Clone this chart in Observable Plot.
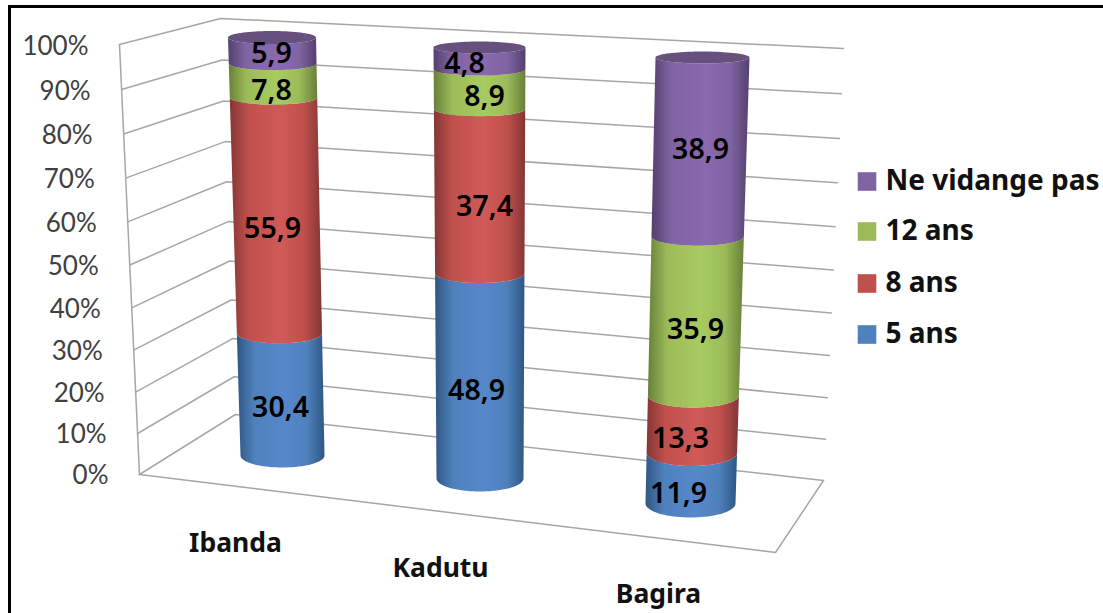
<!DOCTYPE html>
<html>
<head>
<meta charset="utf-8">
<script src="https://cdn.jsdelivr.net/npm/d3@7"></script>
<script src="https://cdn.jsdelivr.net/npm/@observablehq/plot@0.6"></script>
<style>html,body{margin:0;padding:0;background:#fff}svg{display:block}</style>
</head>
<body>
<div id="chart"></div>
<script>
// ---- data ----
const categories = ["Ibanda", "Kadutu", "Bagira"];
const seriesNames = ["5 ans", "8 ans", "12 ans", "Ne vidange pas"];
const ans5 = [30.4, 48.9, 11.9];
const ans8 = [55.9, 37.4, 13.3];
const ans12 = [7.8, 8.9, 35.9];
const neVidange = [5.9, 4.8, 38.9];
const seriesValues = [ans5, ans8, ans12, neVidange];
const yTicks = [0, 10, 20, 30, 40, 50, 60, 70, 80, 90, 100];

// ---- styles ----
const swatch = ["#4f81bd", "#c0504d", "#9bbb59", "#8064a2"];
const mid = ["#5687ca", "#d05a57", "#a8cb60", "#8a69ae"];
const edge = ["#2f5684", "#843634", "#688039", "#54406e"];
const capColor = "#66507e";
const gridColor = "#a6a6a6";
const font = "Lato";
const boldFont = "Noto Sans";

// ---- 3-D layout of the picture (perspective frame, cylinder placement) ----
const warp = v => (4.078 * v + 0.00222 * v * v) / 430;
const frontEdge = {x0: 139, y0: 474, x1: 119, y1: 44};
const backLeft = {x0: 235, y0: 414, x1: 220, y1: 18};
const backRight = {x0: 823, y0: 480, x1: 843, y1: 48};
const floorFront = {x: 775, y: 552};
const lerp = (a, b, t) => a + (b - a) * t;
const onEdge = (e, v) => ({x: lerp(e.x0, e.x1, warp(v)), y: lerp(e.y0, e.y1, warp(v))});

const cylinders = [
  {x0: 282, x1: 271.5, hw0: 42, hw1: 44, y0: 455, y1: 37, ry0: 12, ry1: 6.5},
  {x0: 479.5, x1: 479, hw0: 43.5, hw1: 46, y0: 478, y1: 47, ry0: 13, ry1: 6},
  {x0: 690, x1: 702, hw0: 45, hw1: 47, y0: 503, y1: 57, ry0: 14, ry1: 6}
];
const ring = (c, v) => {
  const t = warp(v);
  return {cx: lerp(c.x0, c.x1, t), cy: lerp(c.y0, c.y1, t), hw: lerp(c.hw0, c.hw1, t), ry: lerp(c.ry0, c.ry1, t)};
};
const frontArc = (r) => d3.range(0, 41).map(i => {
  const a = Math.PI * i / 40;
  return {x: r.cx - r.hw * Math.cos(a), y: r.cy + r.ry * Math.sin(a)};
});
const capArc = (r) => d3.range(0, 81).map(i => {
  const a = 2 * Math.PI * i / 80;
  return {x: r.cx + r.hw * Math.cos(a), y: r.cy + r.ry * Math.sin(a)};
});

// grid lines and floor
const gridLines = yTicks.flatMap(v => [
  {id: v, ...onEdge(frontEdge, v)}, {id: v, ...onEdge(backLeft, v)}, {id: v, ...onEdge(backRight, v)}
]);
const leftEdgeLine = [onEdge(frontEdge, 0), onEdge(frontEdge, 100)];
const floorLine = [onEdge(frontEdge, 0), floorFront, onEdge(backRight, 0)];

// cylinder segments
const segments = seriesNames.map((s, si) => categories.flatMap((cat, ci) => {
  const lo = d3.sum(seriesValues.slice(0, si), a => a[ci]);
  const hi = lo + seriesValues[si][ci];
  const c = cylinders[ci];
  const top = frontArc(ring(c, hi));
  const bottom = frontArc(ring(c, lo)).reverse();
  return [...top, ...bottom].map(p => ({...p, id: cat}));
}));
const caps = categories.flatMap((cat, ci) => capArc(ring(cylinders[ci], 100)).map(p => ({...p, id: cat})));

// text positions
const dataLabelPos = [
  [[280, 407], [476, 390], [678, 493]],
  [[272, 228], [484, 206], [680, 438]],
  [[271, 90], [484, 96], [695, 329]],
  [[271, 53], [464, 63], [700, 149]]
];
const dataLabels = seriesValues.flatMap((vals, si) => vals.map((v, ci) => ({
  text: v.toFixed(1).replace(".", ","), x: dataLabelPos[si][ci][0], y: dataLabelPos[si][ci][1]
})));
const catLabelPos = [[235, 543], [440, 568], [658, 594]];
const catLabels = categories.map((c, i) => ({text: c, x: catLabelPos[i][0], y: catLabelPos[i][1]}));
const tickLabels = yTicks.map(v => ({
  text: v + "%", x: lerp(108, 88, warp(v)), y: lerp(475, 46, warp(v))
}));
const legendY = [334, 283, 231, 181];
const legendRows = seriesNames.map((s, i) => ({name: s, y: legendY[i], color: swatch[i]}));

const baseText = {fontFamily: boldFont, lineAnchor: "middle"};

const svg = Plot.plot({
  width: 1103, height: 613,
  marginTop: 0, marginRight: 0, marginBottom: 0, marginLeft: 0,
  x: {domain: [0, 1103], range: [0, 1103], axis: null},
  y: {domain: [0, 613], range: [0, 613], axis: null},
  marks: [
    // frame
    Plot.ruleX([9], {y1: 6, y2: 613, stroke: "#000", strokeWidth: 3}),
    Plot.ruleY([6], {x1: 8, x2: 1103, stroke: "#000", strokeWidth: 3}),
    // walls
    Plot.line(gridLines, {x: "x", y: "y", z: "id", stroke: gridColor, strokeWidth: 1.5}),
    Plot.line(leftEdgeLine, {x: "x", y: "y", stroke: gridColor, strokeWidth: 1.5}),
    Plot.line(floorLine, {x: "x", y: "y", stroke: gridColor, strokeWidth: 1.5}),
    // cylinders
    ...segments.map((pts, si) => Plot.line(pts, {x: "x", y: "y", z: "id", fill: `url(#grad${si})`, stroke: "none"})),
    Plot.line(caps, {x: "x", y: "y", z: "id", fill: capColor, stroke: "none"}),
    // text
    Plot.text(tickLabels, {fontFamily: font, lineAnchor: "middle", x: "x", y: "y", text: "text", textAnchor: "end", fontSize: 26, fill: "#404040"}),
    Plot.text(catLabels, {...baseText, x: "x", y: "y", text: "text", fontSize: 26.5, fontWeight: 700, fill: "#111"}),
    Plot.text(dataLabels, {...baseText, x: "x", y: "y", text: "text", fontSize: 28.5, fontWeight: 600, fill: "#000"}),
    // legend
    Plot.dot(legendRows, {x: () => 866.5, y: "y", symbol: "square", r: 10.5, fill: "color", stroke: "none"}),
    Plot.text(legendRows, {...baseText, x: () => 885, y: "y", text: "name", textAnchor: "start", fontSize: 28, fontWeight: 700, fill: "#111"})
  ]
});

const defs = d3.select(svg).insert("defs", ":first-child");
seriesNames.forEach((s, i) => {
  const g = defs.append("linearGradient").attr("id", `grad${i}`)
    .attr("x1", "0%").attr("x2", "100%").attr("y1", "0%").attr("y2", "0%");
  [[0, edge[i]], [0.2, swatch[i]], [0.55, mid[i]], [0.8, swatch[i]], [1, edge[i]]].forEach(([o, c]) =>
    g.append("stop").attr("offset", o).attr("stop-color", c));
});
document.getElementById("chart").appendChild(svg);
</script>
</body>
</html>
